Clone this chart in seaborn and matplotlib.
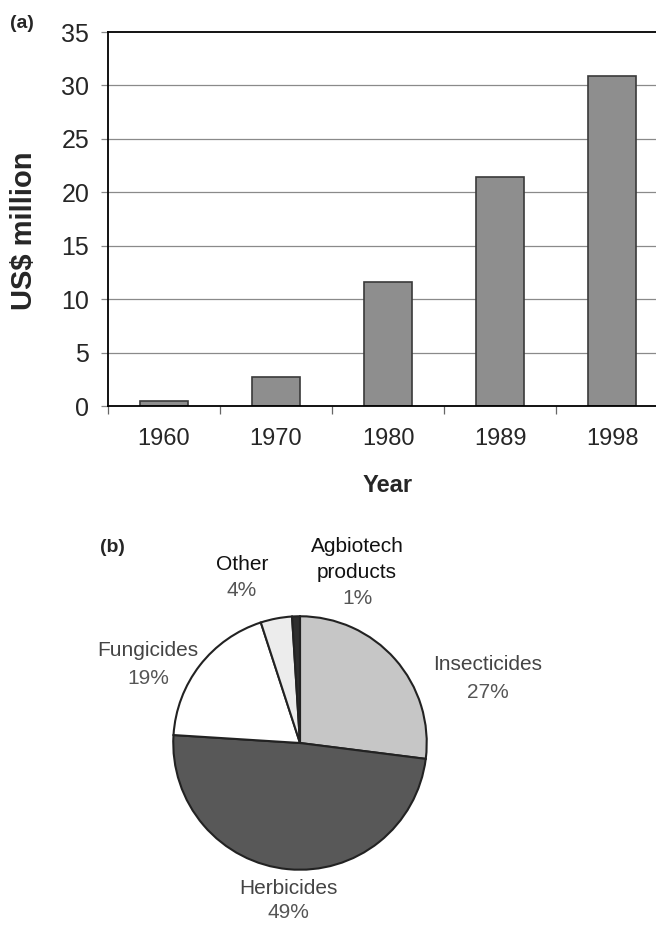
import matplotlib
matplotlib.use("Agg")
import matplotlib.pyplot as plt
import seaborn as sns
import pandas as pd

years = ["1960", "1970", "1980", "1989", "1998"]
sales = [0.5, 2.7, 11.6, 21.4, 30.9]
y_ticks = [0, 5, 10, 15, 20, 25, 30, 35]

pie_labels = ["Insecticides", "Herbicides", "Fungicides", "Other", "Agbiotech\nproducts"]
pie_values = [27, 49, 19, 4, 1]
pie_colors = ["#c6c6c6", "#585858", "#ffffff", "#ececec", "#2e2e2e"]

sns.set_theme(style="white")
plt.rcParams['font.family'] = ['Liberation Sans', 'DejaVu Sans']

W, H = 656, 925
fig = plt.figure(figsize=(W / 100, H / 100), dpi=100)

def fx(px):
    return px / W

def fy(py):
    return 1 - py / H

# ---- (a) bar chart ----
ax_l, ax_r, ax_t, ax_b = 108, 668, 32, 406
ax = fig.add_axes([fx(ax_l), fy(ax_b), (ax_r - ax_l) / W, (ax_b - ax_t) / H])
df = pd.DataFrame({"Year": years, "Sales": sales})
sns.barplot(data=df, x="Year", y="Sales", ax=ax, color="#8e8e8e",
            edgecolor="#3a3a3a", linewidth=1.2, width=0.43, saturation=1)
ax.set_ylim(0, 35)
ax.set_xlim(-0.5, len(years) - 0.5)
ax.set_yticks(y_ticks)
ax.set_yticklabels([str(t) for t in y_ticks], fontsize=18)
ax.set_xticks(range(len(years)))
ax.set_xticklabels(years, fontsize=17)
ax.tick_params(axis="x", length=0, pad=16)
ax.tick_params(axis="y", length=5, color="#888888", width=0.9, pad=8.5, left=True)
ax.set_xticks([i - 0.5 for i in range(len(years) + 1)], minor=True)
ax.tick_params(axis="x", which="minor", length=6, color="#666666", width=0.9, bottom=True)
for t in y_ticks[1:-1]:
    ax.axhline(t, color="#8a8a8a", lw=0.9, zorder=0)
for s in ["top", "left", "bottom"]:
    ax.spines[s].set_visible(True)
    ax.spines[s].set_color("black")
    ax.spines[s].set_linewidth(1.3)
ax.spines["right"].set_visible(False)
ax.set_xlabel("Year", fontsize=17, fontweight="bold")
ax.set_ylabel("US$ million", fontsize=21, fontweight="bold")
ax.xaxis.set_label_coords((388 - ax_l) / (ax_r - ax_l), (ax_b - 486) / (ax_b - ax_t))
ax.xaxis.label.set_va("center")
ax.yaxis.set_label_coords((24 - ax_l) / (ax_r - ax_l), (ax_b - 231) / (ax_b - ax_t))
ax.yaxis.label.set_va("center")
fig.text(fx(22), fy(23), "(a)", fontsize=14, fontweight="bold", ha="center", va="center")

# ---- (b) pie chart ----
cx, cy, r = 300, 743, 128
ax2 = fig.add_axes([fx(cx - r), fy(cy + r), 2 * r / W, 2 * r / H])
ax2.pie(pie_values, colors=pie_colors, startangle=90, counterclock=False,
        wedgeprops=dict(edgecolor="#222222", linewidth=1.5))
ax2.set_xlim(-1.01, 1.01)
ax2.set_ylim(-1.01, 1.01)
ax2.set_aspect("equal")
ax2.axis("off")

# label anchor: (x center, y of first line, line step, name colour)
label_pos = {
    "Insecticides": (488, 665, 27, "#444444"),
    "Herbicides": (288, 889, 24, "#444444"),
    "Fungicides": (148, 650, 29, "#444444"),
    "Other": (242, 565, 25, "#111111"),
    "Agbiotech\nproducts": (357, 547, 26, "#111111"),
}
for lab, val in zip(pie_labels, pie_values):
    x, y, step, c = label_pos[lab]
    lines = lab.split("\n")
    for i, ln in enumerate(lines):
        fig.text(fx(x), fy(y + i * step), ln, fontsize=15, color=c,
                 ha="center", va="center")
    fig.text(fx(x), fy(y + len(lines) * step), f"{val}%", fontsize=15,
             color="#555555", ha="center", va="center")

fig.text(fx(112), fy(547), "(b)", fontsize=14, fontweight="bold", ha="center", va="center")

fig.savefig("out.png", dpi=100)
